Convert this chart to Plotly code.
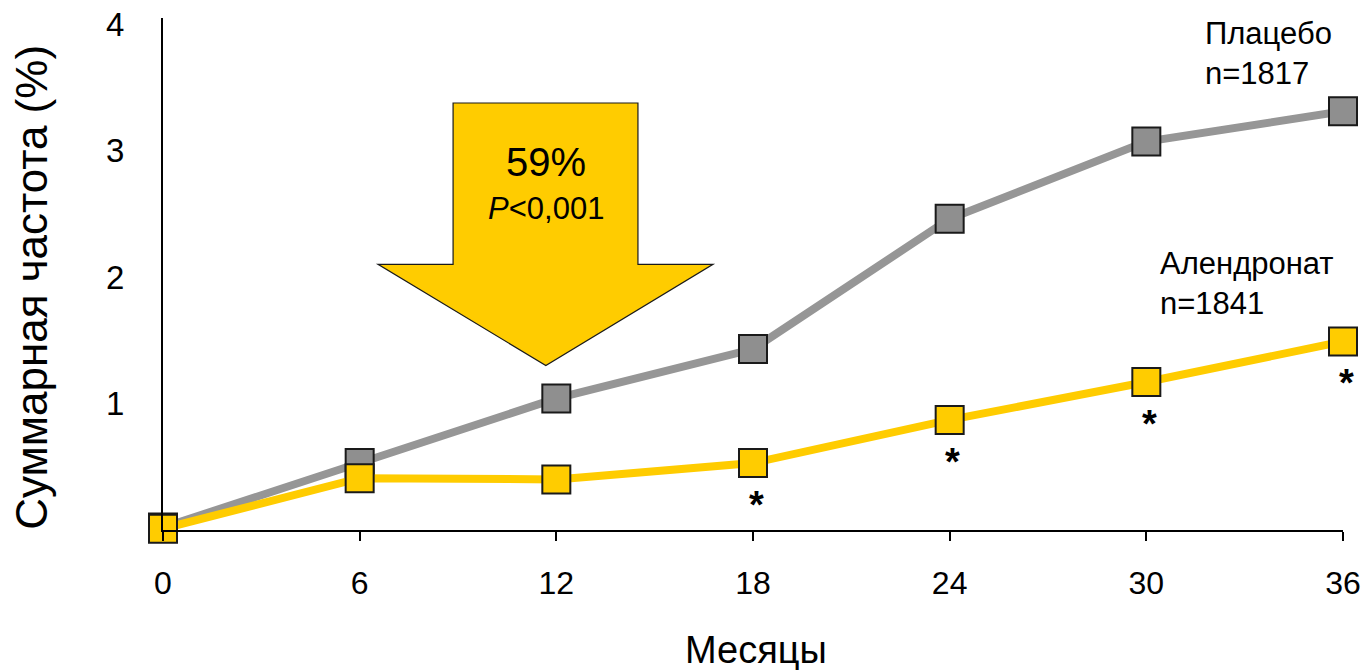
import plotly.graph_objects as go

months = [0, 6, 12, 18, 24, 30, 36]
placebo = [0.02, 0.53, 1.04, 1.43, 2.46, 3.07, 3.31]
alendronate = [0.01, 0.41, 0.40, 0.53, 0.87, 1.17, 1.49]
signif_months = [18, 24, 30, 36]
y_ticks = [1, 2, 3, 4]
x_ticks = [0, 6, 12, 18, 24, 30, 36]

FONT = "Liberation Sans, Arial, sans-serif"
GRAY = "#969696"
GRAY_MARK = "#8f8f8f"
YELLOW = "#FFCC00"

fig = go.Figure()
fig.add_trace(go.Scatter(
    x=months, y=placebo, mode="lines+markers",
    line=dict(color=GRAY, width=8),
    marker=dict(symbol="square", size=28, color=GRAY_MARK, line=dict(color="#1a1a1a", width=2)),
    cliponaxis=False, showlegend=False))
fig.add_trace(go.Scatter(
    x=months, y=alendronate, mode="lines+markers",
    line=dict(color=YELLOW, width=8),
    marker=dict(symbol="square", size=28, color=YELLOW, line=dict(color="#1a1a1a", width=2)),
    cliponaxis=False, showlegend=False))

# arrow shape (data coordinates)
fig.add_shape(type="path", xref="x", yref="y",
              path="M 8.85 3.375 L 14.49 3.375 L 14.49 2.10 L 16.78 2.10 L 11.68 1.30 L 6.56 2.10 L 8.85 2.10 Z",
              fillcolor=YELLOW, line=dict(color="#1a1a1a", width=1.2), layer="below")

annotations = [
    dict(x=11.68, y=2.91, text="59%", font=dict(size=40, family=FONT, color="black")),
    dict(x=11.68, y=2.54, text="<i>P</i><0,001", font=dict(size=31, family=FONT, color="black")),
    dict(x=31.73, y=3.77, text="Плацебо<br>n=1817", align="left", xanchor="left",
         font=dict(size=31, family=FONT, color="black")),
    dict(x=30.35, y=1.95, text="Алендронат<br>n=1841", align="left", xanchor="left",
         font=dict(size=31, family=FONT, color="black")),
]
for m in signif_months:
    i = months.index(m)
    annotations.append(dict(x=m, y=alendronate[i], yshift=-42, xshift=3, text="<b>*</b>",
                            font=dict(size=38, family=FONT, color="black")))
for a in annotations:
    a.update(xref="x", yref="y", showarrow=False)

annotations.append(dict(xref="paper", yref="paper", x=-0.111, y=0.473, text="Суммарная частота (%)",
                        textangle=-90, showarrow=False, xanchor="center", yanchor="middle",
                        font=dict(size=44, family=FONT, color="black")))
annotations.append(dict(xref="paper", yref="paper", x=0.5025, y=-0.234, text="Месяцы",
                        showarrow=False, xanchor="center", yanchor="middle",
                        font=dict(size=38, family=FONT, color="black")))

fig.update_layout(
    width=1362, height=670,
    margin=dict(l=163, r=19, t=18, b=140, autoexpand=False),
    paper_bgcolor="white", plot_bgcolor="white",
    font=dict(family=FONT, color="black"),
    annotations=annotations,
    xaxis=dict(range=[0, 36], tickvals=x_ticks, showgrid=False, zeroline=False,
               showline=True, linecolor="black", linewidth=2,
               ticks="outside", ticklen=9, tickwidth=2, tickcolor="black",
               tickfont=dict(size=32, family=FONT), ticklabelstandoff=15,
               ticklabeloverflow="allow", automargin=False),
    yaxis=dict(range=[0, 4.047], tickvals=y_ticks, showgrid=False, zeroline=False,
               showline=True, linecolor="black", linewidth=2, ticks="",
               tickfont=dict(size=33, family=FONT), ticklabelstandoff=30,
               ticklabeloverflow="allow", automargin=False),
)

fig.write_html("out.html", config={"displayModeBar": False},
               post_script="document.body.style.margin='0';document.body.style.overflow='hidden';")
